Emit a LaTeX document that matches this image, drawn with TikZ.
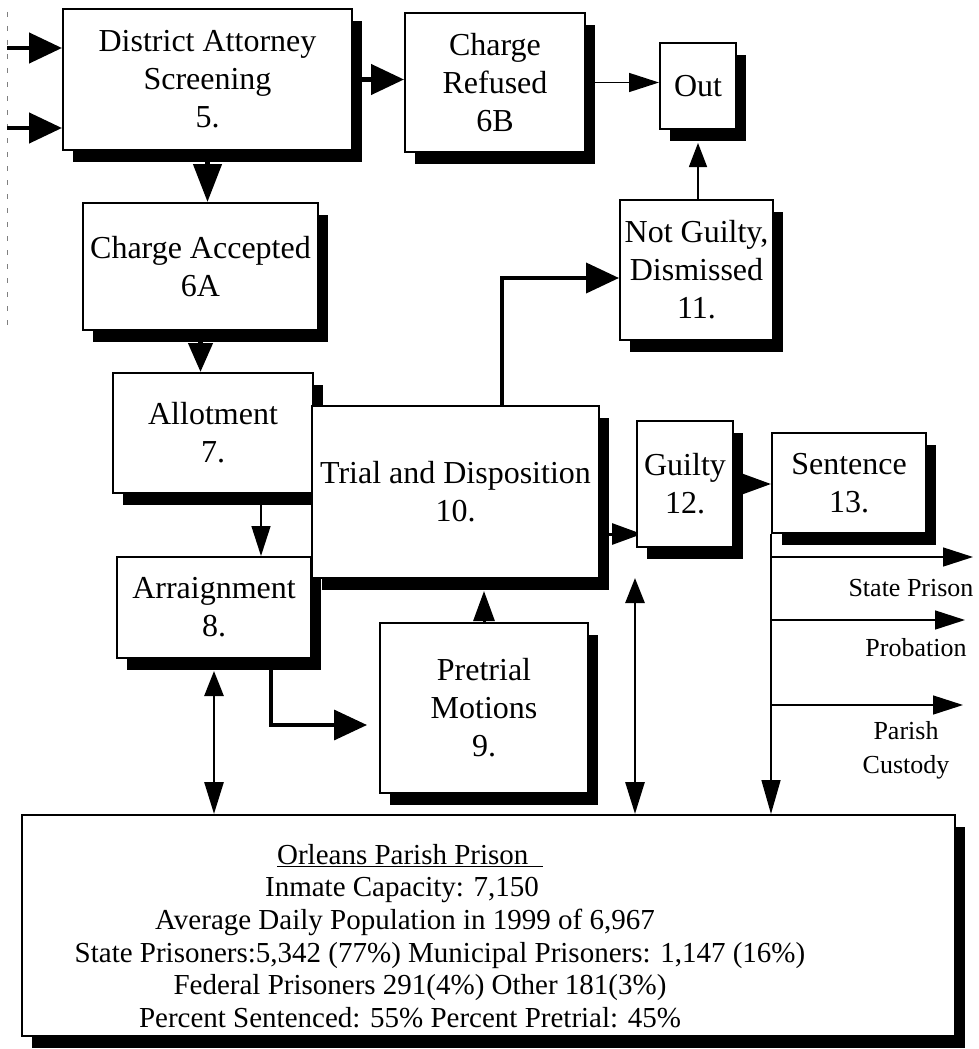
\documentclass[tikz,border=0pt]{standalone}
\usepackage{fontspec}
\setmainfont{Liberation Serif}
\usetikzlibrary{arrows.meta,shadows,backgrounds,calc}
\begin{document}
\begin{tikzpicture}[x=1pt,y=-1pt,
  stagebox/.style={draw, line width=2pt, fill=white, align=center, inner sep=0pt,
    font=\fontsize{32}{38}\selectfont,
    drop shadow={shadow xshift=10pt, shadow yshift=-12pt, fill=black, opacity=1}},
  bigarrow/.style={line width=4.5pt, -{Triangle[length=33pt,width=30pt]}},
  medarrow/.style={line width=3pt, -{Triangle[length=30pt,width=21pt]}},
  thinarrow/.style={line width=1.5pt, -{Triangle[length=30pt,width=19pt]}},
  twoway/.style={line width=2.8pt, {Triangle[length=25pt,width=19pt]}-{Triangle[length=32pt,width=19pt]}},
  outlabel/.style={align=center, inner sep=0pt, font=\fontsize{26}{34}\selectfont}]
\useasboundingbox (0,0) rectangle (978,1049);
\node[stagebox, minimum width=289pt, minimum height=141pt] (da) at (207.5,79.5) {District Attorney\\Screening\\5.};
\node[stagebox, minimum width=180pt, minimum height=139pt] (refused) at (495,82.5) {Charge\\Refused\\6B};
\node[stagebox, minimum width=76pt, minimum height=86pt] (out) at (698,86) {Out};
\node[stagebox, minimum width=235pt, minimum height=127pt] (accepted) at (200.5,266.5) {Charge Accepted\\6A};
\node[stagebox, minimum width=153pt, minimum height=140pt] (notguilty) at (696.5,270) {Not Guilty,\\Dismissed\\11.};
\node[stagebox, minimum width=200pt, minimum height=120pt] (allot) at (213,433) {Allotment\\7.};
\node[stagebox, minimum width=194pt, minimum height=101pt] (arr) at (214,607.5) {Arraignment\\8.};
\node[stagebox, minimum width=287pt, minimum height=172pt] (trial) at (455.5,492) {Trial and Disposition\\10.};
\node[stagebox, minimum width=208pt, minimum height=170pt] (pretrial) at (484,708) {Pretrial\\Motions\\9.};
\node[stagebox, minimum width=96pt, minimum height=126pt] (guilty) at (685,484) {Guilty\\12.};
\node[stagebox, minimum width=154pt, minimum height=100pt] (sentence) at (849,483) {Sentence\\13.};
\node[stagebox, minimum width=933pt, minimum height=221pt] (prison) at (488.5,925.5) {};
\node[align=center, inner sep=0pt, font=\fontsize{29}{32.6}\selectfont] (prisoninfo) at (420,936)
  {\hspace*{-20pt}\underline{Orleans Parish Prison\ \ }\\\hspace*{-36pt}Inmate Capacity: 7,150\\
   \hspace*{-30pt}Average Daily Population in 1999 of 6,967\\
   \hspace*{40pt}State Prisoners:5,342 (77\%) Municipal Prisoners: 1,147 (16\%)\\
   Federal Prisoners 291(4\%) Other 181(3\%)\\
   \hspace*{-20pt}Percent Sentenced: 55\% Percent Pretrial: 45\%};
\node[outlabel] (stateprison) at (911,588) {State Prison};
\node[outlabel] (probation) at (916,648) {Probation};
\node[outlabel] (custody) at (906,750) {Parish\\Custody};
\begin{scope}[on background layer]
% page edge
\draw[gray, line width=0.8pt, dash pattern=on 5pt off 9pt] (7,12) -- (7,330);
\coordinate (feedA) at (7,48);
\coordinate (feedB) at (7,128);
\draw[bigarrow] (feedA) -- (feedA -| da.west);
\draw[bigarrow] (feedB) -- (feedB -| da.west);
\draw[bigarrow] (da.east) -- (da.east -| refused.west);
\draw[bigarrow, -{Triangle[length=38pt,width=28pt]}] (da.south) -- (da.south |- accepted.north);
\draw[bigarrow, -{Triangle[length=29pt,width=24pt]}] (accepted.south) -- (accepted.south |- allot.north);
\draw[thinarrow] (refused.east) -- (refused.east -| out.west);
\draw[thinarrow, -{Triangle[length=24pt,width=18pt]}] (notguilty.north -| out.south) -- ($(out.south)+(0,13)$);
\coordinate (bend) at (502,278);
\draw[bigarrow, line width=4pt] (trial.north -| bend) -- (bend) -- (bend -| notguilty.west);
\coordinate (aa) at (261,0);
\draw[thinarrow] (allot.south -| aa) -- (arr.north -| aa);
\coordinate (elbow) at (271,725);
\draw[bigarrow, line width=3.5pt] (arr.south -| elbow) -- (elbow) -- ($(elbow -| pretrial.west)-(12,0)$);
\draw[twoway] ($(arr.south)+(0,12)$) -- (arr.south |- prison.north);
\draw[medarrow] (pretrial.north) -- ($(pretrial.north |- trial.south)+(0,12)$);
\coordinate (tg) at (620,534);
\draw[medarrow] (tg -| trial.east) -- ([xshift=6pt]tg -| guilty.west);
\draw[medarrow] (guilty.east) -- (guilty.east -| sentence.west);
\coordinate (gt) at (635,578);
\draw[twoway] (gt) -- (gt |- prison.north);
\draw[thinarrow, -{Triangle[length=34pt,width=19pt]}] (sentence.south west) -- (sentence.south west |- prison.north);
\coordinate (sp) at (973,557);
\coordinate (pb) at (965,620);
\coordinate (pc) at (963,705);
\draw[thinarrow] (sp -| sentence.south west) -- (sp);
\draw[thinarrow] (pb -| sentence.south west) -- (pb);
\draw[thinarrow] (pc -| sentence.south west) -- (pc);
\end{scope}
\end{tikzpicture}
\end{document}
